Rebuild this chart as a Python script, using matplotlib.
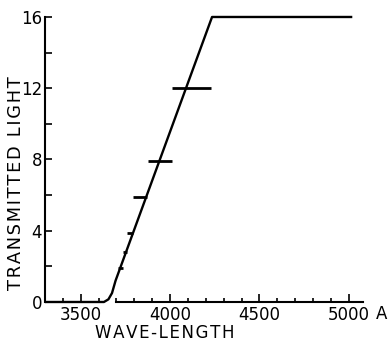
import matplotlib
matplotlib.use("Agg")
import matplotlib.pyplot as plt
from matplotlib.ticker import MultipleLocator

# curve (wave-length in A, transmitted light)
wave = [3300, 3630, 3655, 3675, 3695, 4235, 5020]
light = [0, 0, 0.15, 0.5, 1.2, 16, 16]

# short horizontal marks along the rising part
bar_y = [12, 7.9, 5.9, 3.9, 2.8, 1.9]
bar_x0 = [4011, 3877, 3793, 3760, 3737, 3709]
bar_x1 = [4229, 4011, 3872, 3793, 3760, 3737]

x_major = [3500, 4000, 4500, 5000]
y_ticks = [0, 2, 4, 6, 8, 10, 12, 14, 16]
y_labels = ["0", "", "4", "", "8", "", "12", "", "16"]


def spaced(s):
    # the lettering in the original is spread out a bit
    return "\u200a".join(s)


fig = plt.figure(figsize=(3.88, 3.41), dpi=100)
ax = fig.add_axes([0.116, 0.1144, 0.8196, 0.8358])

ax.plot(wave, light, color="black", lw=1.7, clip_on=False, solid_capstyle="butt")
ax.hlines(bar_y, bar_x0, bar_x1, color="black", lw=2.0)

ax.set_xlim(3300, 5080)
ax.set_ylim(0, 16)

ax.spines["top"].set_visible(False)
ax.spines["right"].set_visible(False)
ax.spines["left"].set_linewidth(1.5)
ax.spines["bottom"].set_linewidth(1.5)
ax.spines["bottom"].set_bounds(3700, 5080)

ax.set_xticks(x_major)
ax.xaxis.set_minor_locator(MultipleLocator(100))
ax.set_yticks(y_ticks)
ax.set_yticklabels(y_labels)

ax.tick_params(axis="x", which="major", direction="in", length=6, width=1.2,
               labelsize=12, pad=3)
ax.tick_params(axis="x", which="minor", direction="in", length=3, width=1.2)
ax.tick_params(axis="y", direction="in", length=5, width=1.2, labelsize=12, pad=2)

ax.set_xlabel(spaced("WAVE-LENGTH"), fontsize=12, va="center")
ax.xaxis.set_label_coords(0.376, -0.108)
ax.set_ylabel(spaced("TRANSMITTED LIGHT"), fontsize=12.8, va="center")
ax.yaxis.set_label_coords(-0.09, 0.418)

fig.text(382 / 388, 1 - 314 / 341, "A", fontsize=12, ha="center", va="center")

fig.savefig("out.png", dpi=100)
